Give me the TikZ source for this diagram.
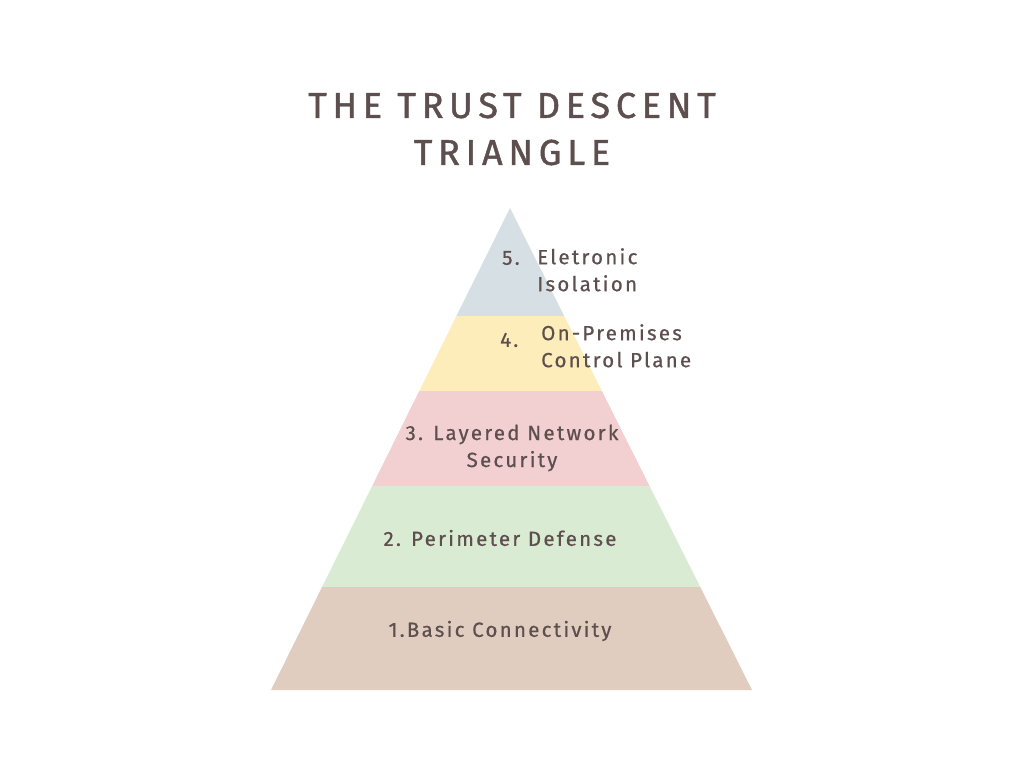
\documentclass[tikz,border=0pt]{standalone}
\usepackage{fontspec}
\setmainfont{Fira Sans}
\definecolor{ink}{HTML}{5E4F4F}
\definecolor{lvlfive}{HTML}{D6DFE3}
\definecolor{lvlfour}{HTML}{FDEDBB}
\definecolor{lvlthree}{HTML}{F2D0D2}
\definecolor{lvltwo}{HTML}{D9ECD3}
\definecolor{lvlone}{HTML}{E0CDC0}
\tikzstyle{title}=[ink, align=center, inner sep=0pt, font=\fontsize{36}{47}\selectfont\addfontfeatures{LetterSpace=16,FakeBold=1.2}]
\tikzstyle{label}=[ink, inner sep=0pt, font=\fontsize{20.5}{27}\selectfont\addfontfeatures{LetterSpace=11,FakeBold=0.6}]

\begin{document}
\begin{tikzpicture}[x=1pt, y=-1pt]
	\useasboundingbox (0,0) rectangle (1024,768);
	\fill[white] (0,0) rectangle (1024,768);

	\coordinate (top) at (510, 208);
	\coordinate (bl) at (271, 690);
	\coordinate (br) at (752, 690);

	% Bands
	\begin{scope}
		\clip (top) -- (bl) -- (br) -- cycle;
		\fill[lvlfive]  (200, 200) rectangle (800, 316);
		\fill[lvlfour]  (200, 316) rectangle (800, 391);
		\fill[lvlthree] (200, 391) rectangle (800, 486);
		\fill[lvltwo]   (200, 486) rectangle (800, 587);
		\fill[lvlone]   (200, 587) rectangle (800, 700);
	\end{scope}

	% Title
	\node[title] (head) at (512, 129) {THE TRUST DESCENT\\TRIANGLE};

	% Levels
	\node[label, anchor=west] (n5) at (502, 258) {5.};
	\node[label, anchor=north west, align=left] (t5) at (537, 248) {Eletronic\\Isolation};
	\node[label, anchor=west] (n4) at (500, 340) {4.};
	\node[label, anchor=north west, align=left] (t4) at (541, 324) {On-Premises\\Control Plane};
	\node[label, align=center] (t3) at (512, 448) {3. Layered Network\\Security};
	\node[label] (t2) at (500, 538) {2. Perimeter Defense};
	\node[label] (t1) at (500, 631) {1.Basic Connectivity};
\end{tikzpicture}
\end{document}
